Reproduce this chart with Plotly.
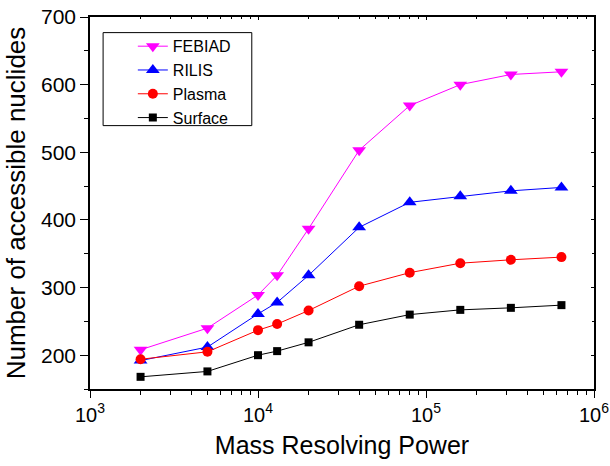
import plotly.graph_objects as go

resolving_power = [2000, 5000, 10000, 13000, 20000, 40000, 80000, 160000, 320000, 640000]
febiad = [208, 240, 289, 318, 387, 503, 569, 600, 615, 619]
rilis = [192, 212, 261, 278, 318, 389, 426, 435, 443, 448]
plasma = [194, 205, 237, 246, 266, 302, 322, 336, 341, 345]
surface = [168, 176, 200, 206, 219, 245, 260, 267, 270, 274]

x_tick_vals = [1e3, 1e4, 1e5, 1e6]
x_tick_text = ["10<sup>3</sup>", "10<sup>4</sup>", "10<sup>5</sup>", "10<sup>6</sup>"]

series = [
    ("FEBIAD", febiad, "#FF00FF", "triangle-down", 12),
    ("RILIS", rilis, "#0000FF", "triangle-up", 12),
    ("Plasma", plasma, "#FF0000", "circle", 10),
    ("Surface", surface, "#000000", "square", 8),
]

fig = go.Figure()
for name, vals, color, sym, size in series:
    fig.add_trace(go.Scatter(
        x=resolving_power, y=vals, name=name, mode="lines+markers",
        line=dict(color=color, width=1),
        marker=dict(symbol=sym, size=size, color=color),
    ))

minor_x = [m * 10**e for e in (3, 4, 5) for m in range(2, 10)]

font = "Arial, Liberation Sans, sans-serif"
fig.update_layout(
    width=610, height=466,
    margin=dict(l=90, r=15.5, t=16.7, b=76.7, autoexpand=False),
    paper_bgcolor="white", plot_bgcolor="white",
    font=dict(family=font, color="black"),
    showlegend=True,
    legend=dict(
        x=0.085, y=0.967, xanchor="left", yanchor="top",
        borderwidth=0, bgcolor="rgba(0,0,0,0)",
        font=dict(size=16, family=font), traceorder="normal",
    ),
    shapes=[dict(type="rect", xref="paper", yref="paper",
                 x0=0.026, x1=0.321, y0=0.708, y1=0.958,
                 line=dict(color="black", width=1), fillcolor="rgba(0,0,0,0)")],
    xaxis=dict(
        type="log", range=[3, 6], tickmode="array", tickvals=x_tick_vals, ticktext=x_tick_text,
        showgrid=False, zeroline=False, automargin=False,
        showline=True, linecolor="black", linewidth=1.5, mirror=True,
        ticks="outside", ticklen=7, tickwidth=1.2, tickcolor="black",
        tickfont=dict(size=20),
        minor=dict(tickmode="array", tickvals=minor_x, ticks="outside", ticklen=4, tickwidth=1.2, tickcolor="black", showgrid=False),
        title=dict(text="Mass Resolving Power", font=dict(size=25), standoff=12),
    ),
    yaxis=dict(
        range=[150, 700], dtick=100, tick0=0,
        showgrid=False, zeroline=False, automargin=False,
        showline=True, linecolor="black", linewidth=1.5, mirror=True,
        ticks="outside", ticklen=8, tickwidth=1.2, tickcolor="black",
        tickfont=dict(size=21),
        minor=dict(dtick=50, ticks="outside", ticklen=4, tickwidth=1.2, tickcolor="black", showgrid=False),
        title=dict(text="Number of accessible nuclides", font=dict(size=26), standoff=8),
    ),
    xaxis2=dict(
        type="log", range=[3, 6], tickmode="array", tickvals=x_tick_vals, overlaying="x", side="top",
        showgrid=False, zeroline=False, showticklabels=False, automargin=False,
        ticks="inside", ticklen=3, tickwidth=1, tickcolor="black",
        minor=dict(tickmode="array", tickvals=minor_x, ticks="inside", ticklen=2, tickwidth=1, tickcolor="black"),
    ),
    yaxis2=dict(
        range=[150, 700], dtick=100, tick0=0, overlaying="y", side="right",
        showgrid=False, zeroline=False, showticklabels=False, automargin=False,
        ticks="inside", ticklen=3, tickwidth=1, tickcolor="black",
        minor=dict(dtick=50, ticks="inside", ticklen=2, tickwidth=1, tickcolor="black"),
    ),
)
fig.add_trace(go.Scatter(x=[resolving_power[0]], y=[febiad[0]], xaxis="x2", yaxis="y2",
                         mode="markers", marker=dict(opacity=0), showlegend=False, hoverinfo="skip"))

fig.write_html("out.html", config={"displayModeBar": False},
               post_script="document.body.style.margin='0px';document.body.style.overflow='hidden';")
